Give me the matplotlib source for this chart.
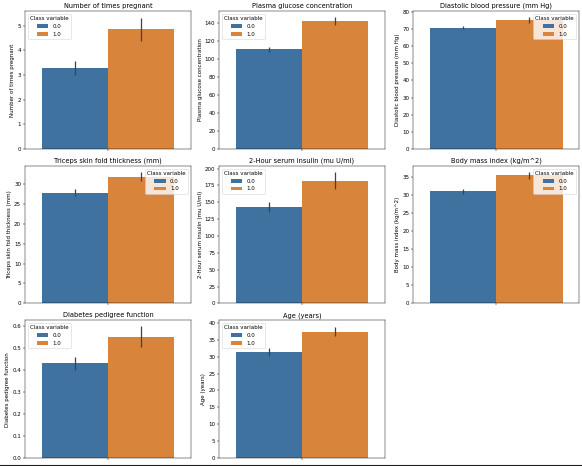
import matplotlib
import matplotlib.pyplot as plt
from matplotlib.lines import Line2D

matplotlib.use("Agg")

# Column names (also used as titles / y labels)
features = [
    "Number of times pregnant",
    "Plasma glucose concentration",
    "Diastolic blood pressure (mm Hg)",
    "Triceps skin fold thickness (mm)",
    "2-Hour serum insulin (mu U/ml)",
    "Body mass index (kg/m^2)",
    "Diabetes pedigree function",
    "Age (years)",
]
classes = ["0.0", "1.0"]

# mean per class
means_0 = [3.30, 111.0, 71.0, 27.8, 143.2, 31.0, 0.429, 31.3]
means_1 = [4.86, 142.6, 75.3, 31.75, 181.2, 35.6, 0.548, 37.3]
# 95% CI (low, high) per class
ci_0 = [(3.0, 3.59), (108.0, 113.6), (70.0, 72.2), (26.9, 28.7),
        (135.8, 150.1), (30.3, 31.7), (0.398, 0.459), (30.1, 32.6)]
ci_1 = [(4.39, 5.34), (138.1, 146.7), (73.4, 77.3), (30.6, 32.9),
        (169.9, 195.0), (34.5, 36.5), (0.503, 0.598), (36.0, 38.7)]
ylims = [5.6, 153.7, 80.6, 34.5, 204.0, 38.1, 0.624, 40.7]
legend_locs = ["upper left", "upper left", "upper right", "upper right",
               "upper left", "upper right", "upper left", "upper left"]

colors = ["#3f729f", "#d8843a"]

fig, axes = plt.subplots(3, 3, figsize=(582 / 40, 466 / 40))
fig.subplots_adjust(left=0.043, right=0.995, top=0.976, bottom=0.017,
                     wspace=0.17, hspace=0.124)

for i, name in enumerate(features):
    ax = axes.flat[i]
    for j, (means, ci) in enumerate([(means_0, ci_0), (means_1, ci_1)]):
        x = -0.2 + 0.4 * j
        ax.bar(x, means[i], width=0.4, color=colors[j], label=classes[j])
        ax.plot([x, x], ci[i], color="#424242", linewidth=2.25, solid_capstyle="butt")
    ax.set_xlim(-0.5, 0.5)
    ax.set_ylim(0, ylims[i])
    ax.set_xticks([0])
    ax.set_xticklabels([""])
    ax.set_title(name)
    ax.set_ylabel(name)
    ax.legend(title="Class variable", loc=legend_locs[i])

fig.delaxes(axes.flat[8])

# dark border line at the bottom of the screenshot
fig.add_artist(Line2D([0, 1], [0.003, 0.003], transform=fig.transFigure,
                      color="#222222", linewidth=2))

fig.savefig("out.png", dpi=40)
